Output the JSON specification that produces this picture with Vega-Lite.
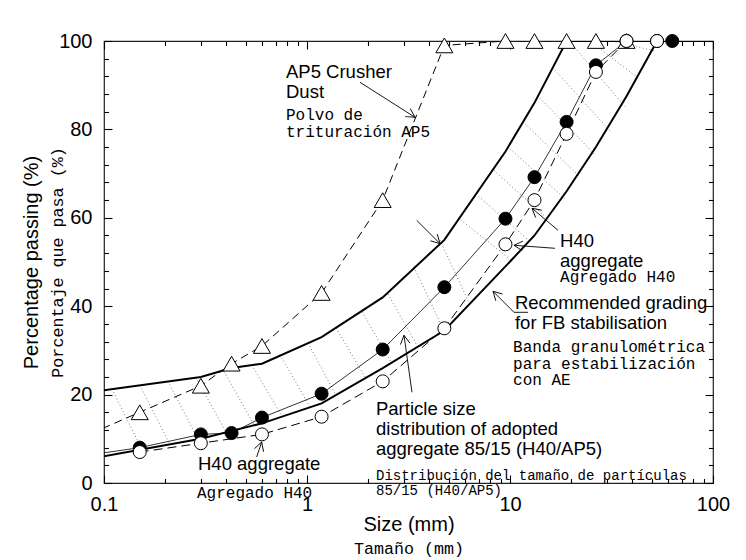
{
  "$schema": "https://vega.github.io/schema/vega-lite/v6.json",
  "width": 609,
  "height": 442,
  "autosize": {"type": "none"},
  "padding": {"left": 104, "top": 41, "right": 33, "bottom": 77},
  "background": "white",
  "config": {
    "view": {"stroke": "#222222", "strokeWidth": 1.2},
    "axis": {"domain": false, "grid": false, "tickColor": "black", "tickWidth": 1.1, "labelColor": "black", "titleColor": "black", "labelFont": "Liberation Sans", "titleFont": "Liberation Sans", "titleFontWeight": "normal"}
  },
  "datasets": {
    "hatch": [
      {"mm": 0.1095, "pct": 21.24, "mm2": 0.1539, "pct2": 7.56},
      {"mm": 0.1504, "pct": 22.10, "mm2": 0.2114, "pct2": 8.73},
      {"mm": 0.2067, "pct": 22.99, "mm2": 0.2904, "pct2": 9.89},
      {"mm": 0.2838, "pct": 23.85, "mm2": 0.399, "pct2": 11.52},
      {"mm": 0.3902, "pct": 25.20, "mm2": 0.5482, "pct2": 13.21},
      {"mm": 0.5358, "pct": 26.63, "mm2": 0.753, "pct2": 15.16},
      {"mm": 0.7362, "pct": 29.03, "mm2": 1.035, "pct2": 17.17},
      {"mm": 1.011, "pct": 31.70, "mm2": 1.390, "pct2": 19.82},
      {"mm": 1.390, "pct": 35.05, "mm2": 1.952, "pct2": 23.62},
      {"mm": 1.866, "pct": 38.76, "mm2": 2.623, "pct2": 27.01},
      {"mm": 2.506, "pct": 42.74, "mm2": 3.523, "pct2": 30.72},
      {"mm": 3.366, "pct": 48.85, "mm2": 4.73, "pct2": 34.46},
      {"mm": 4.521, "pct": 54.95, "mm2": 6.353, "pct2": 40.29},
      {"mm": 5.543, "pct": 60.02, "mm2": 10.35, "pct2": 50.09},
      {"mm": 6.80, "pct": 65.36, "mm2": 12.69, "pct2": 54.43},
      {"mm": 8.343, "pct": 70.70, "mm2": 15.56, "pct2": 59.48},
      {"mm": 10.0, "pct": 75.57, "mm2": 18.66, "pct2": 64.32},
      {"mm": 11.86, "pct": 81.27, "mm2": 22.12, "pct2": 69.21},
      {"mm": 14.05, "pct": 87.06, "mm2": 26.22, "pct2": 74.30},
      {"mm": 16.66, "pct": 93.39, "mm2": 31.09, "pct2": 79.66},
      {"mm": 19.75, "pct": 99.75, "mm2": 36.86, "pct2": 85.16},
      {"mm": 24.78, "pct": 100, "mm2": 43.69, "pct2": 91.29},
      {"mm": 31.80, "pct": 100, "mm2": 51.80, "pct2": 97.74}
    ],
    "band": [
      {"grading": "upper", "mm": 0.075, "pct": 20.2},
      {"grading": "upper", "mm": 0.3, "pct": 24},
      {"grading": "upper", "mm": 0.425, "pct": 26},
      {"grading": "upper", "mm": 0.6, "pct": 27},
      {"grading": "upper", "mm": 1.18, "pct": 33},
      {"grading": "upper", "mm": 2.36, "pct": 42},
      {"grading": "upper", "mm": 4.75, "pct": 55},
      {"grading": "upper", "mm": 9.5, "pct": 75},
      {"grading": "upper", "mm": 13.2, "pct": 86},
      {"grading": "upper", "mm": 19, "pct": 100},
      {"grading": "upper", "mm": 100, "pct": 100},
      {"grading": "lower", "mm": 0.075, "pct": 5},
      {"grading": "lower", "mm": 0.3, "pct": 10},
      {"grading": "lower", "mm": 0.6, "pct": 13.5},
      {"grading": "lower", "mm": 1.18, "pct": 18},
      {"grading": "lower", "mm": 2.36, "pct": 26},
      {"grading": "lower", "mm": 4.75, "pct": 34.5},
      {"grading": "lower", "mm": 9.5, "pct": 49},
      {"grading": "lower", "mm": 13.2, "pct": 56},
      {"grading": "lower", "mm": 19, "pct": 66},
      {"grading": "lower", "mm": 26.5, "pct": 76},
      {"grading": "lower", "mm": 37.5, "pct": 87.5},
      {"grading": "lower", "mm": 53, "pct": 100},
      {"grading": "lower", "mm": 100, "pct": 100}
    ],
    "series": [
      {"material": "AP5", "mm": 0.075, "pct": 10},
      {"material": "AP5", "mm": 0.15, "pct": 16},
      {"material": "AP5", "mm": 0.3, "pct": 22},
      {"material": "AP5", "mm": 0.425, "pct": 27},
      {"material": "AP5", "mm": 0.6, "pct": 31},
      {"material": "AP5", "mm": 1.18, "pct": 43},
      {"material": "AP5", "mm": 2.36, "pct": 64},
      {"material": "AP5", "mm": 4.75, "pct": 99},
      {"material": "AP5", "mm": 9.5, "pct": 100},
      {"material": "AP5", "mm": 13.2, "pct": 100},
      {"material": "AP5", "mm": 19, "pct": 100},
      {"material": "AP5", "mm": 26.5, "pct": 100},
      {"material": "AP5", "mm": 37.5, "pct": 100},
      {"material": "H40", "mm": 0.15, "pct": 7},
      {"material": "H40", "mm": 0.3, "pct": 9},
      {"material": "H40", "mm": 0.6, "pct": 11},
      {"material": "H40", "mm": 1.18, "pct": 15},
      {"material": "H40", "mm": 2.36, "pct": 23},
      {"material": "H40", "mm": 4.75, "pct": 35},
      {"material": "H40", "mm": 9.5, "pct": 54},
      {"material": "H40", "mm": 13.2, "pct": 64},
      {"material": "H40", "mm": 19, "pct": 79},
      {"material": "H40", "mm": 26.5, "pct": 93},
      {"material": "H40", "mm": 37.5, "pct": 100},
      {"material": "H40", "mm": 53, "pct": 100},
      {"material": "Adopted", "mm": 0.075, "pct": 6},
      {"material": "Adopted", "mm": 0.15, "pct": 8},
      {"material": "Adopted", "mm": 0.3, "pct": 11},
      {"material": "Adopted", "mm": 0.425, "pct": 11.3},
      {"material": "Adopted", "mm": 0.6, "pct": 14.8},
      {"material": "Adopted", "mm": 1.18, "pct": 20.2},
      {"material": "Adopted", "mm": 2.36, "pct": 30.2},
      {"material": "Adopted", "mm": 4.75, "pct": 44.3},
      {"material": "Adopted", "mm": 9.5, "pct": 59.8},
      {"material": "Adopted", "mm": 13.2, "pct": 69.2},
      {"material": "Adopted", "mm": 19, "pct": 81.7},
      {"material": "Adopted", "mm": 26.5, "pct": 94.5},
      {"material": "Adopted", "mm": 37.5, "pct": 100},
      {"material": "Adopted", "mm": 53, "pct": 100},
      {"material": "Adopted", "mm": 63, "pct": 100}
    ],
    "leaders": [
      {"id": 1, "ord": 1, "mm": 1.824, "pct": 90.66},
      {"id": 1, "ord": 2, "mm": 3.404, "pct": 82.74},
      {"id": 2, "ord": 1, "mm": 3.47, "pct": 59.43},
      {"id": 2, "ord": 2, "mm": 4.521, "pct": 54.16},
      {"id": 3, "ord": 1, "mm": 17.24, "pct": 57.17},
      {"id": 3, "ord": 2, "mm": 12.84, "pct": 62.15},
      {"id": 4, "ord": 1, "mm": 16.66, "pct": 53.10},
      {"id": 4, "ord": 2, "mm": 10.46, "pct": 53.78},
      {"id": 5, "ord": 1, "mm": 12.27, "pct": 38.62},
      {"id": 5, "ord": 2, "mm": 10.46, "pct": 38.62},
      {"id": 5, "ord": 3, "mm": 8.25, "pct": 43.37},
      {"id": 6, "ord": 1, "mm": 3.29, "pct": 20.52},
      {"id": 6, "ord": 2, "mm": 3.005, "pct": 33.42},
      {"id": 7, "ord": 1, "mm": 0.565, "pct": 5.88},
      {"id": 7, "ord": 2, "mm": 0.598, "pct": 9.28}
    ],
    "heads": [
      {"mm": 3.404, "pct": 82.74, "dir": 32.5},
      {"mm": 4.521, "pct": 54.16, "dir": 45},
      {"mm": 12.84, "pct": 62.15, "dir": 220},
      {"mm": 10.46, "pct": 53.78, "dir": 184},
      {"mm": 8.25, "pct": 43.37, "dir": 225},
      {"mm": 3.005, "pct": 33.42, "dir": 262},
      {"mm": 0.598, "pct": 9.28, "dir": 288}
    ],
    "notes_en": [
      {"label": "AP5 Crusher\nDust", "mm": 0.788, "pct": 91.56},
      {"label": "H40\naggregate", "mm": 17.64, "pct": 53.33},
      {"label": "Recommended grading\nfor FB stabilisation", "mm": 10.58, "pct": 39.30},
      {"label": "Particle size\ndistribution of adopted\naggregate 85/15 (H40/AP5)", "mm": 2.187, "pct": 15.32},
      {"label": "H40 aggregate", "mm": 0.2904, "pct": 2.87}
    ],
    "notes_es": [
      {"label": "Polvo de\ntrituración AP5", "mm": 0.788, "pct": 82.06},
      {"label": "Agregado H40", "mm": 17.64, "pct": 45.41},
      {"label": "Banda granulométrica\npara estabilización\ncon AE", "mm": 10.35, "pct": 29.57},
      {"label": "Agregado H40", "mm": 0.2871, "pct": -3.46}
    ],
    "notes_es_small": [
      {"label": "Distribución del tamaño de partículas\n85/15 (H40/AP5)", "mm": 2.187, "pct": 0.61}
    ]
  },
  "resolve": {"axis": {"x": "independent", "y": "independent"}},
  "layer": [
    {
      "data": {"name": "hatch"},
      "mark": {"type": "rule", "stroke": "#7a7a7a", "strokeWidth": 1, "strokeDash": [1, 2.5]},
      "encoding": {
        "x": {"field": "mm", "type": "quantitative", "scale": {"type": "log", "domain": [0.1, 100]},
          "axis": {"orient": "bottom", "values": [0.1, 1, 10, 100], "format": "~g", "ticks": false, "labelFlush": false, "labelFontSize": 20, "labelPadding": 11, "title": "Size (mm)", "titleFontSize": 20, "titleY": 47, "titleBaseline": "alphabetic"}},
        "y": {"field": "pct", "type": "quantitative", "scale": {"domain": [0, 100], "nice": false, "zero": false},
          "axis": {"orient": "left", "values": [0, 20, 40, 60, 80, 100], "ticks": false, "labelFontSize": 20, "labelPadding": 12, "title": "Percentage passing (%)", "titleFontSize": 20, "titleX": -67, "titleAngle": 270, "titleAlign": "center", "titleBaseline": "alphabetic"}},
        "x2": {"field": "mm2"},
        "y2": {"field": "pct2"}
      }
    },
    {
      "data": {"name": "band"},
      "mark": {"type": "line", "stroke": "black", "strokeWidth": 2, "clip": true},
      "encoding": {
        "x": {"field": "mm", "type": "quantitative", "scale": {"type": "log", "domain": [0.1, 100]},
          "axis": {"orient": "bottom", "values": [0.2, 0.3, 0.4, 0.5, 0.6, 0.7, 0.8, 0.9, 2, 3, 4, 5, 6, 7, 8, 9, 20, 30, 40, 50, 60, 70, 80, 90], "labels": false, "tickSize": -4.5, "title": "Tamaño (mm)", "titleFont": "Liberation Mono", "titleFontSize": 16.7, "titleY": 70, "titleBaseline": "alphabetic"}},
        "y": {"field": "pct", "type": "quantitative", "scale": {"domain": [0, 100], "nice": false, "zero": false},
          "axis": {"orient": "left", "values": [4, 8, 12, 16, 24, 28, 32, 36, 44, 48, 52, 56, 64, 68, 72, 76, 84, 88, 92, 96], "labels": false, "tickSize": -4.5, "title": "Porcentaje que pasa (%)", "titleFont": "Liberation Mono", "titleFontSize": 16.7, "titleX": -42, "titleAngle": 270, "titleAlign": "center", "titleBaseline": "alphabetic"}},
        "detail": {"field": "grading"}
      }
    },
    {
      "data": {"name": "series"},
      "transform": [{"filter": "datum.material === 'AP5'"}],
      "mark": {"type": "line", "stroke": "black", "strokeWidth": 1, "strokeDash": [8, 5], "clip": true},
      "encoding": {
        "x": {"field": "mm", "type": "quantitative", "scale": {"type": "log", "domain": [0.1, 100]},
          "axis": {"orient": "bottom", "values": [0.1, 1, 10, 100], "labels": false, "tickSize": -8, "title": null}},
        "y": {"field": "pct", "type": "quantitative", "scale": {"domain": [0, 100], "nice": false, "zero": false},
          "axis": {"orient": "left", "values": [0, 20, 40, 60, 80, 100], "labels": false, "tickSize": -8, "title": null}}
      }
    },
    {
      "data": {"name": "series"},
      "transform": [{"filter": "datum.material === 'H40'"}],
      "mark": {"type": "line", "stroke": "black", "strokeWidth": 1, "strokeDash": [9, 5], "clip": true},
      "encoding": {
        "x": {"field": "mm", "type": "quantitative", "scale": {"type": "log", "domain": [0.1, 100]},
          "axis": {"orient": "top", "values": [0.1, 1, 10, 100], "labels": false, "tickSize": -8, "title": null}},
        "y": {"field": "pct", "type": "quantitative", "scale": {"domain": [0, 100], "nice": false, "zero": false},
          "axis": {"orient": "right", "values": [0, 20, 40, 60, 80, 100], "labels": false, "tickSize": -8, "title": null}}
      }
    },
    {
      "data": {"name": "series"},
      "transform": [{"filter": "datum.material === 'Adopted'"}],
      "mark": {"type": "line", "stroke": "black", "strokeWidth": 0.8, "clip": true},
      "encoding": {
        "x": {"field": "mm", "type": "quantitative", "scale": {"type": "log", "domain": [0.1, 100]},
          "axis": {"orient": "top", "values": [0.2, 0.3, 0.4, 0.5, 0.6, 0.7, 0.8, 0.9, 2, 3, 4, 5, 6, 7, 8, 9, 20, 30, 40, 50, 60, 70, 80, 90], "labels": false, "tickSize": -4.5, "title": null}},
        "y": {"field": "pct", "type": "quantitative", "scale": {"domain": [0, 100], "nice": false, "zero": false},
          "axis": {"orient": "right", "values": [4, 8, 12, 16, 24, 28, 32, 36, 44, 48, 52, 56, 64, 68, 72, 76, 84, 88, 92, 96], "labels": false, "tickSize": -4.5, "title": null}}
      }
    },
    {
      "data": {"name": "leaders"},
      "mark": {"type": "line", "stroke": "black", "strokeWidth": 0.9},
      "encoding": {
        "x": {"field": "mm", "type": "quantitative", "scale": {"type": "log", "domain": [0.1, 100]}, "axis": null},
        "y": {"field": "pct", "type": "quantitative", "scale": {"domain": [0, 100], "nice": false, "zero": false}, "axis": null},
        "detail": {"field": "id"},
        "order": {"field": "ord"}
      }
    },
    {
      "data": {"name": "heads"},
      "mark": {"type": "point", "shape": "M -1 -0.55 L 0 0 L -1 0.55", "filled": false, "stroke": "black", "strokeWidth": 0.9, "size": 300, "opacity": 1},
      "encoding": {
        "x": {"field": "mm", "type": "quantitative", "scale": {"type": "log", "domain": [0.1, 100]}, "axis": null},
        "y": {"field": "pct", "type": "quantitative", "scale": {"domain": [0, 100], "nice": false, "zero": false}, "axis": null},
        "angle": {"field": "dir", "type": "quantitative", "scale": null}
      }
    },
    {
      "data": {"name": "series"},
      "transform": [{"filter": "datum.material === 'AP5' && datum.mm >= 0.1"}],
      "mark": {"type": "point", "shape": "triangle-up", "filled": true, "fill": "white", "stroke": "black", "strokeWidth": 1, "size": 289, "opacity": 1},
      "encoding": {
        "x": {"field": "mm", "type": "quantitative", "scale": {"type": "log", "domain": [0.1, 100]}, "axis": null},
        "y": {"field": "pct", "type": "quantitative", "scale": {"domain": [0, 100], "nice": false, "zero": false}, "axis": null}
      }
    },
    {
      "data": {"name": "series"},
      "transform": [{"filter": "datum.material === 'Adopted' && datum.mm >= 0.1"}],
      "mark": {"type": "point", "shape": "circle", "filled": true, "fill": "black", "stroke": "black", "strokeWidth": 1, "size": 169, "opacity": 1},
      "encoding": {
        "x": {"field": "mm", "type": "quantitative", "scale": {"type": "log", "domain": [0.1, 100]}, "axis": null},
        "y": {"field": "pct", "type": "quantitative", "scale": {"domain": [0, 100], "nice": false, "zero": false}, "axis": null}
      }
    },
    {
      "data": {"name": "series"},
      "transform": [{"filter": "datum.material === 'H40'"}],
      "mark": {"type": "point", "shape": "circle", "filled": true, "fill": "white", "stroke": "black", "strokeWidth": 1, "size": 169, "opacity": 1},
      "encoding": {
        "x": {"field": "mm", "type": "quantitative", "scale": {"type": "log", "domain": [0.1, 100]}, "axis": null},
        "y": {"field": "pct", "type": "quantitative", "scale": {"domain": [0, 100], "nice": false, "zero": false}, "axis": null}
      }
    },
    {
      "data": {"name": "notes_en"},
      "mark": {"type": "text", "align": "left", "baseline": "alphabetic", "font": "Liberation Sans", "fontSize": 18.5, "lineBreak": "\n", "lineHeight": 20, "color": "black"},
      "encoding": {
        "x": {"field": "mm", "type": "quantitative", "scale": {"type": "log", "domain": [0.1, 100]}, "axis": null},
        "y": {"field": "pct", "type": "quantitative", "scale": {"domain": [0, 100], "nice": false, "zero": false}, "axis": null},
        "text": {"field": "label"}
      }
    },
    {
      "data": {"name": "notes_es"},
      "mark": {"type": "text", "align": "left", "baseline": "alphabetic", "font": "Liberation Mono", "fontSize": 16, "lineBreak": "\n", "lineHeight": 16.5, "color": "black"},
      "encoding": {
        "x": {"field": "mm", "type": "quantitative", "scale": {"type": "log", "domain": [0.1, 100]}, "axis": null},
        "y": {"field": "pct", "type": "quantitative", "scale": {"domain": [0, 100], "nice": false, "zero": false}, "axis": null},
        "text": {"field": "label"}
      }
    },
    {
      "data": {"name": "notes_es_small"},
      "mark": {"type": "text", "align": "left", "baseline": "alphabetic", "font": "Liberation Mono", "fontSize": 14, "lineBreak": "\n", "lineHeight": 14.5, "color": "black"},
      "encoding": {
        "x": {"field": "mm", "type": "quantitative", "scale": {"type": "log", "domain": [0.1, 100]}, "axis": null},
        "y": {"field": "pct", "type": "quantitative", "scale": {"domain": [0, 100], "nice": false, "zero": false}, "axis": null},
        "text": {"field": "label"}
      }
    }
  ]
}
